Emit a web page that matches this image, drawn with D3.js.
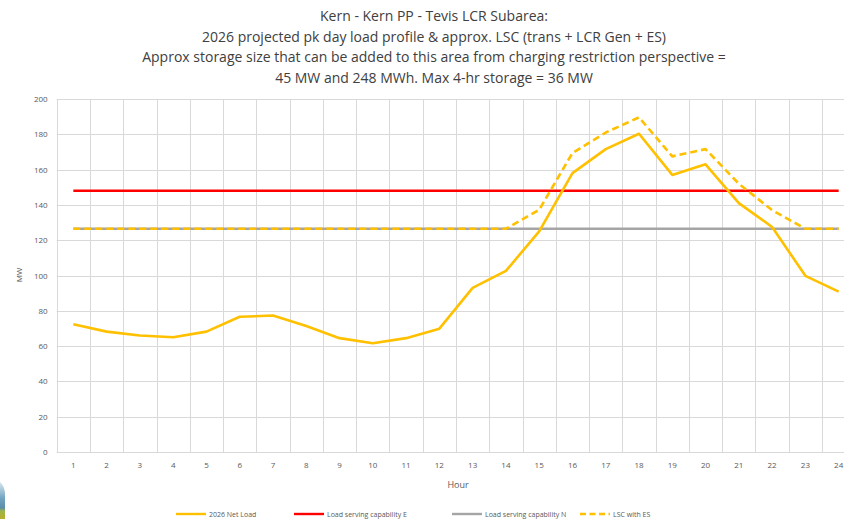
<!DOCTYPE html>
<html>
<head>
<meta charset="utf-8">
<script src="https://cdn.jsdelivr.net/npm/d3@7"></script>
<style>
  body { margin: 0; background: #fff; }
  svg { display: block; font-family: "Open Sans", "Liberation Sans", sans-serif; }
</style>
</head>
<body>
<div id="chart"></div>
<script>
// Chart data
const hours = d3.range(1, 25);
const netLoad = [72.4, 68.2, 66, 65, 68.2, 76.6, 77.3, 71.4, 64.5, 61.6, 64.5, 69.9,
                 93, 102.6, 125, 158, 171.6, 180.3, 157, 163, 141, 127.5, 99.8, 90.9];
const lscE = hours.map(() => 148);
const lscN = hours.map(() => 126.5);
const lscWithEs = [126.5, 126.5, 126.5, 126.5, 126.5, 126.5, 126.5, 126.5, 126.5, 126.5, 126.5, 126.5,
                   126.5, 126.5, 137.2, 169.4, 181, 189.6, 167.5, 171.6, 152, 137, 126.5, 126.5];
const yTicks = d3.range(0, 201, 20);
const titleLines = [
    "Kern - Kern PP - Tevis LCR Subarea:",
    "2026 projected pk day load profile & approx. LSC (trans + LCR Gen + ES)",
    "Approx storage size that can be added to this area from charging restriction perspective =",
    "45 MW and 248 MWh. Max 4-hr storage = 36 MW"
];
const seriesNames = ["2026 Net Load", "Load serving capability E", "Load serving capability N", "LSC with ES"];

// Layout
const width = 844;
const height = 519;
const plotLeft = 56.7;
const plotRight = 855.3; // plot runs past the right edge, like the source
const plotTop = 99;
const plotBottom = 452;

const svg = d3.select("#chart").append("svg")
    .attr("width", width)
    .attr("height", height);

// bit of the slide logo peeking in at the bottom left
const logoGrad = svg.append("defs").append("linearGradient")
    .attr("id", "logo-grad")
    .attr("x1", 0).attr("x2", 0).attr("y1", 0).attr("y2", 1);
logoGrad.append("stop").attr("offset", "0%").attr("stop-color", "#d8e6ee");
logoGrad.append("stop").attr("offset", "45%").attr("stop-color", "#6fa3c0");
logoGrad.append("stop").attr("offset", "70%").attr("stop-color", "#5b8fa8");
logoGrad.append("stop").attr("offset", "78%").attr("stop-color", "#9bb44a");
logoGrad.append("stop").attr("offset", "100%").attr("stop-color", "#b9b02c");
svg.append("path")
    .attr("d", "M0,482 Q5,486 5,495 L5,519 L0,519 Z")
    .attr("fill", "url(#logo-grad)");

// Title
svg.append("g").selectAll("text")
    .data(titleLines)
    .enter()
    .append("text")
    .attr("x", 434)
    .attr("y", (d, i) => 21 + i * 20.5)
    .attr("text-anchor", "middle")
    .attr("font-size", 14)
    .attr("fill", "#404040")
    .text(d => d);

const x = d3.scaleBand()
    .domain(hours)
    .range([plotLeft, plotRight]);

const y = d3.scaleLinear()
    .domain([0, 200])
    .range([plotBottom, plotTop]);

// Gridlines
const grid = svg.append("g").attr("stroke", "#d9d9d9").attr("stroke-width", 1);
grid.selectAll(".h")
    .data(yTicks)
    .enter()
    .append("line")
    .attr("x1", plotLeft)
    .attr("x2", plotRight)
    .attr("y1", d => Math.round(y(d)) + 0.5)
    .attr("y2", d => Math.round(y(d)) + 0.5);
grid.selectAll(".v")
    .data(hours)
    .enter()
    .append("line")
    .attr("x1", d => Math.round(x(d)) + 0.5)
    .attr("x2", d => Math.round(x(d)) + 0.5)
    .attr("y1", plotTop)
    .attr("y2", plotBottom);

// Axes
const yAxis = svg.append("g")
    .attr("transform", `translate(${plotLeft},0)`)
    .call(d3.axisLeft(y).tickValues(yTicks).tickSize(0).tickPadding(9));
yAxis.select(".domain").remove();
yAxis.selectAll("text").attr("fill", "#595959").attr("font-size", 8).attr("font-family", "Open Sans, sans-serif");

const xAxis = svg.append("g")
    .attr("transform", `translate(0,${plotBottom})`)
    .call(d3.axisBottom(x).tickSize(0).tickPadding(10));
xAxis.select(".domain").remove();
xAxis.selectAll("text").attr("fill", "#595959").attr("font-size", 8).attr("font-family", "Open Sans, sans-serif");

svg.append("text")
    .attr("transform", "translate(22,275) rotate(-90)")
    .attr("text-anchor", "middle")
    .attr("font-size", 8)
    .attr("fill", "#595959")
    .text("MW");

svg.append("text")
    .attr("x", 458)
    .attr("y", 488)
    .attr("text-anchor", "middle")
    .attr("font-size", 9)
    .attr("fill", "#595959")
    .text("Hour");

// Series
const line = d3.line()
    .x((d, i) => x(hours[i]) + x.bandwidth() / 2)
    .y(d => y(d));

const series = [
    { values: lscN, color: "#a5a5a5", dash: null },
    { values: lscE, color: "#ff0000", dash: null },
    { values: netLoad, color: "#ffc000", dash: null },
    { values: lscWithEs, color: "#ffc000", dash: "7,4" }
];

svg.append("g").selectAll("path")
    .data(series)
    .enter()
    .append("path")
    .attr("d", d => line(d.values))
    .attr("fill", "none")
    .attr("stroke", d => d.color)
    .attr("stroke-width", 2.6)
    .attr("stroke-linejoin", "round")
    .attr("stroke-dasharray", d => d.dash);

// Legend
const legendItems = [
    { name: seriesNames[0], color: "#ffc000", dash: null, x: 176 },
    { name: seriesNames[1], color: "#ff0000", dash: null, x: 294 },
    { name: seriesNames[2], color: "#a5a5a5", dash: null, x: 452 },
    { name: seriesNames[3], color: "#ffc000", dash: "6,3.5", x: 580 }
];
const legend = svg.append("g").selectAll("g")
    .data(legendItems)
    .enter()
    .append("g")
    .attr("transform", d => `translate(${d.x},514)`);
legend.append("line")
    .attr("x1", 0)
    .attr("x2", 30)
    .attr("stroke", d => d.color)
    .attr("stroke-width", 2.4)
    .attr("stroke-dasharray", d => d.dash);
legend.append("text")
    .attr("x", 33)
    .attr("y", 2.5)
    .attr("font-size", 7)
    .attr("fill", "#595959")
    .text(d => d.name);
</script>
</body>
</html>
